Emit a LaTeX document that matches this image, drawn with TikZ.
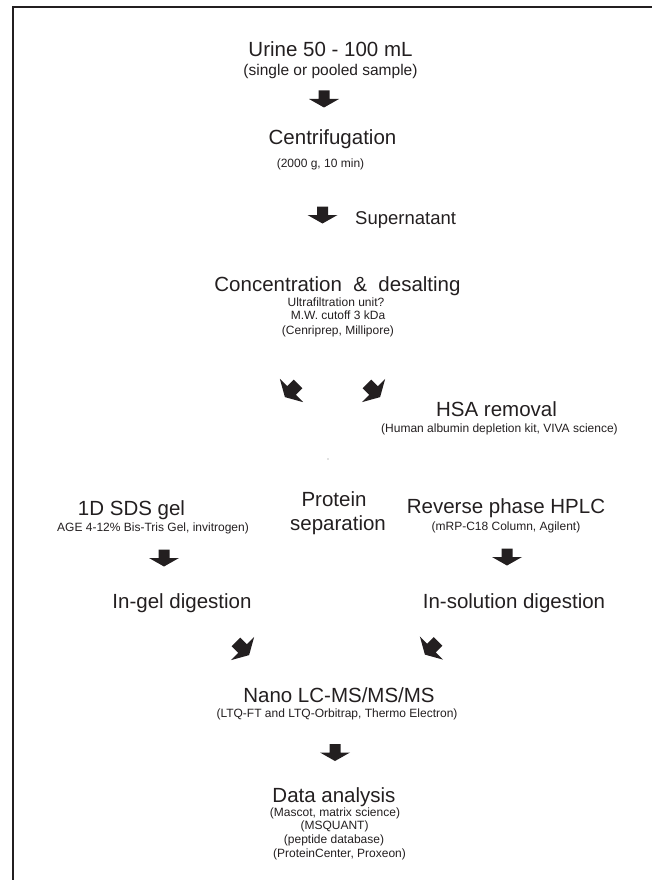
\documentclass[tikz,border=0pt]{standalone}
\usepackage{fontspec}
\setmainfont{Liberation Sans}
\definecolor{txt}{RGB}{35,31,32}
\begin{document}
\begin{tikzpicture}[x=1pt,y=-1pt,
  title/.style={font=\fontsize{20.5}{24}\selectfont, anchor=base, inner sep=0pt, text=txt},
  sub/.style={font=\fontsize{12}{14}\selectfont, anchor=base, inner sep=0pt, text=txt},
  blockarrow/.pic={\fill[txt] (-5.5,-8.5) -- (5.5,-8.5) -- (5.5,0) -- (15,0) -- (0,8.5) -- (-15,0) -- (-5.5,0) -- cycle;}
]
\useasboundingbox (0,0) rectangle (652,880);
% frame
\draw[line width=1.5pt, txt] (13,880) -- (13,7) -- (652,7);

\node[title] (urine) at (330.5,57) {Urine 50 - 100 mL};
\node[sub, font=\fontsize{15.5}{18}\selectfont] (urinesub) at (330.5,76) {(single or pooled sample)};
\pic at (324,99) {blockarrow};
\node[title] (centri) at (332.5,144) {Centrifugation};
\node[sub] (centrisub) at (320.5,167) {(2000 g, 10 min)};
\pic at (322.5,215) {blockarrow};
\node[title, font=\fontsize{18.5}{22}\selectfont, anchor=base west] (super) at (355,224) {Supernatant};
\node[title] (conc) at (337.5,291) {Concentration~~\&~~desalting};
\node[sub] (uf) at (336,306) {Ultrafiltration unit?};
\node[sub] (mw) at (338,319) {M.W. cutoff 3 kDa};
\node[sub] (cen) at (338,334) {(Cenriprep, Millipore)};
\pic[rotate=-45, scale=1.1] at (291.5,390.5) {blockarrow};
\pic[rotate=45, scale=1.1] at (373.5,390.5) {blockarrow};
\node[title] (hsa) at (496.5,416) {HSA removal};
\node[sub] (hsasub) at (499.5,432) {(Human albumin depletion kit, VIVA science)};
\fill[gray] (328,459) circle (0.7);
\node[title] (sds) at (131.5,515) {1D SDS gel};
\node[sub] (sdssub) at (153,531) {AGE 4-12\% Bis-Tris Gel, invitrogen)};
\node[title] (prot) at (334,506) {Protein};
\node[title] (sep) at (338,530) {separation};
\node[title] (rp) at (506,513) {Reverse phase HPLC};
\node[sub] (rpsub) at (506,530) {(mRP-C18 Column, Agilent)};
\pic at (164,558) {blockarrow};
\pic at (507,557) {blockarrow};
\node[title] (ingel) at (182,608) {In-gel digestion};
\node[title] (insol) at (514,608) {In-solution digestion};
\pic[rotate=45, scale=1.1] at (242.5,648.5) {blockarrow};
\pic[rotate=-45, scale=1.1] at (431.5,648) {blockarrow};
\node[title] (nano) at (339,702) {Nano LC-MS/MS/MS};
\node[sub] (nanosub) at (337,717) {(LTQ-FT and LTQ-Orbitrap, Thermo Electron)};
\pic at (335,752.5) {blockarrow};
\node[title] (data) at (334,802) {Data analysis};
\node[sub] (d1) at (335,816) {(Mascot, matrix science)};
\node[sub] (d2) at (334.5,829.5) {(MSQUANT)};
\node[sub] (d3) at (334,843) {(peptide database)};
\node[sub] (d4) at (339.5,857) {(ProteinCenter, Proxeon)};
\end{tikzpicture}
\end{document}
